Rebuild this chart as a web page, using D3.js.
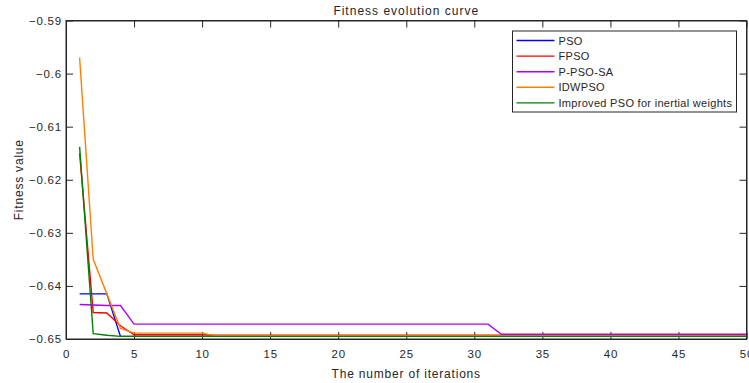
<!DOCTYPE html>
<html>
<head>
<meta charset="utf-8">
<script src="https://cdn.jsdelivr.net/npm/d3@7"></script>
<style>
    body { margin: 0; background: #fff; }
    text { font-family: "Liberation Sans", Arial, sans-serif; fill: #262626; }
    .axis path, .axis line { stroke: #262626; }
</style>
</head>
<body>
<div id="chart"></div>
<script>
// iterations 1..50
let iterations = d3.range(1, 51);

let seriesNames = ['PSO', 'FPSO', 'P-PSO-SA', 'IDWPSO', 'Improved PSO for inertial weights'];
let seriesColors = ['#0000ff', '#ff0000', '#aa00ff', '#ff8000', '#008000'];

let psoValues = [-0.6415, -0.6415, -0.6415, -0.6495, -0.6495, -0.6495, -0.6495, -0.6495, -0.6495, -0.6495,
    -0.6495, -0.6495, -0.6495, -0.6495, -0.6495, -0.6495, -0.6495, -0.6495, -0.6495, -0.6495,
    -0.6495, -0.6495, -0.6495, -0.6495, -0.6495, -0.6495, -0.6495, -0.6495, -0.6495, -0.6495,
    -0.6495, -0.6495, -0.6495, -0.6495, -0.6495, -0.6495, -0.6495, -0.6495, -0.6495, -0.6495,
    -0.6495, -0.6495, -0.6495, -0.6495, -0.6495, -0.6495, -0.6495, -0.6495, -0.6495, -0.6495];

let fpsoValues = [-0.6150, -0.6450, -0.6451, -0.6475, -0.6492, -0.6492, -0.6492, -0.6492, -0.6492, -0.6492,
    -0.6493, -0.6493, -0.6493, -0.6493, -0.6493, -0.6493, -0.6493, -0.6493, -0.6493, -0.6493,
    -0.6493, -0.6493, -0.6493, -0.6493, -0.6493, -0.6493, -0.6493, -0.6493, -0.6493, -0.6493,
    -0.6493, -0.6493, -0.6493, -0.6493, -0.6493, -0.6493, -0.6493, -0.6493, -0.6493, -0.6493,
    -0.6493, -0.6493, -0.6493, -0.6493, -0.6493, -0.6493, -0.6493, -0.6493, -0.6493, -0.6493];

let ppsosaValues = [-0.6435, -0.6436, -0.6437, -0.6437, -0.6472, -0.6472, -0.6472, -0.6472, -0.6472, -0.6472,
    -0.6472, -0.6472, -0.6472, -0.6472, -0.6472, -0.6472, -0.6472, -0.6472, -0.6472, -0.6472,
    -0.6472, -0.6472, -0.6472, -0.6472, -0.6472, -0.6472, -0.6472, -0.6472, -0.6472, -0.6472,
    -0.6472, -0.6491, -0.6491, -0.6491, -0.6491, -0.6491, -0.6491, -0.6491, -0.6491, -0.6491,
    -0.6491, -0.6491, -0.6491, -0.6491, -0.6491, -0.6491, -0.6491, -0.6491, -0.6491, -0.6491];

let idwpsoValues = [-0.5970, -0.6350, -0.6415, -0.6480, -0.6489, -0.6489, -0.6489, -0.6489, -0.6489, -0.6489,
    -0.6494, -0.6494, -0.6494, -0.6494, -0.6494, -0.6494, -0.6494, -0.6494, -0.6494, -0.6494,
    -0.6494, -0.6494, -0.6494, -0.6494, -0.6494, -0.6494, -0.6494, -0.6494, -0.6494, -0.6494,
    -0.6494, -0.6494, -0.6494, -0.6494, -0.6494, -0.6494, -0.6494, -0.6494, -0.6494, -0.6494,
    -0.6494, -0.6494, -0.6494, -0.6494, -0.6494, -0.6494, -0.6494, -0.6494, -0.6494, -0.6494];

let improvedValues = [-0.6138, -0.6490, -0.6493, -0.6495, -0.6495, -0.6495, -0.6495, -0.6495, -0.6495, -0.6495,
    -0.6495, -0.6495, -0.6495, -0.6495, -0.6495, -0.6495, -0.6495, -0.6495, -0.6495, -0.6495,
    -0.6495, -0.6495, -0.6495, -0.6495, -0.6495, -0.6495, -0.6495, -0.6495, -0.6495, -0.6495,
    -0.6495, -0.6495, -0.6495, -0.6495, -0.6495, -0.6495, -0.6495, -0.6495, -0.6495, -0.6495,
    -0.6495, -0.6495, -0.6495, -0.6495, -0.6495, -0.6495, -0.6495, -0.6495, -0.6495, -0.6495];

let xTicks = [0, 5, 10, 15, 20, 25, 30, 35, 40, 45, 50];
let yTicks = [-0.65, -0.64, -0.63, -0.62, -0.61, -0.6, -0.59];

let allSeries = [psoValues, fpsoValues, ppsosaValues, idwpsoValues, improvedValues];

let margin = {top: 20.5, right: 2.5, bottom: 44, left: 66};
let width = 749 - margin.left - margin.right;
let height = 383 - margin.top - margin.bottom;

let svg = d3.select("#chart").append("svg")
    .attr("width", 749)
    .attr("height", 383);

let g = svg.append("g")
    .attr("transform", "translate(" + margin.left + "," + margin.top + ")");

let x = d3.scaleLinear().domain([0, 50]).range([0, width]);
let y = d3.scaleLinear().domain([-0.65, -0.59]).range([height, 0]);

// bottom + top axes, ticks pointing inwards like matlab
g.append("g")
    .attr("class", "axis")
    .attr("transform", "translate(0," + height + ")")
    .call(d3.axisBottom(x).tickValues(xTicks).tickSizeInner(-7).tickSizeOuter(0).tickPadding(11).tickFormat(d3.format("d")))
    .call(a => a.selectAll("text").attr("font-size", "11.5px").attr("letter-spacing", "0.8px"))
    .call(a => a.attr("font-family", null));

g.append("g")
    .attr("class", "axis")
    .call(d3.axisTop(x).tickValues(xTicks).tickSizeInner(-7).tickSizeOuter(0).tickFormat(""));

g.append("g")
    .attr("class", "axis")
    .call(d3.axisLeft(y).tickValues(yTicks).tickSizeInner(-7).tickSizeOuter(0).tickPadding(4).tickFormat(d => d3.format("")(+d.toFixed(2))))
    .call(a => a.selectAll("text").attr("font-size", "11.5px").attr("letter-spacing", "0.8px"))
    .call(a => a.attr("font-family", null));

g.append("g")
    .attr("class", "axis")
    .attr("transform", "translate(" + width + ",0)")
    .call(d3.axisRight(y).tickValues(yTicks).tickSizeInner(-7).tickSizeOuter(0).tickFormat(""));

let line = d3.line()
    .x((d, i) => x(iterations[i]))
    .y(d => y(d));

allSeries.forEach((vals, i) => {
    g.append("path")
        .datum(vals)
        .attr("fill", "none")
        .attr("stroke", seriesColors[i])
        .attr("stroke-width", 1.4)
        .attr("d", line);
});

// box
g.append("rect")
    .attr("width", width)
    .attr("height", height)
    .attr("fill", "none")
    .attr("stroke", "#262626")
    .attr("stroke-width", 1);

// title + labels
svg.append("text")
    .attr("x", margin.left + width / 2)
    .attr("y", 15)
    .attr("text-anchor", "middle")
    .attr("font-size", "12px")
    .attr("letter-spacing", "1px")
    .text("Fitness evolution curve");

svg.append("text")
    .attr("x", margin.left + width / 2)
    .attr("y", 378)
    .attr("text-anchor", "middle")
    .attr("font-size", "12px")
    .attr("letter-spacing", "0.8px")
    .text("The number of iterations");

svg.append("text")
    .attr("transform", "translate(23," + (margin.top + height / 2) + ") rotate(-90)")
    .attr("text-anchor", "middle")
    .attr("font-size", "12px")
    .attr("letter-spacing", "0.8px")
    .text("Fitness value");

// legend
let legend = svg.append("g").attr("transform", "translate(512.5,31)");
legend.append("rect")
    .attr("width", 224)
    .attr("height", 81)
    .attr("fill", "#fff")
    .attr("stroke", "#262626")
    .attr("stroke-width", 1);

seriesNames.forEach((name, i) => {
    let rowY = 9.5 + i * 15.6;
    legend.append("line")
        .attr("x1", 4).attr("x2", 42)
        .attr("y1", rowY).attr("y2", rowY)
        .attr("stroke", seriesColors[i])
        .attr("stroke-width", 1.4);
    legend.append("text")
        .attr("x", 46)
        .attr("y", rowY + 4)
        .attr("font-size", "11px")
        .attr("letter-spacing", "0.3px")
        .text(name);
});
</script>
</body>
</html>
